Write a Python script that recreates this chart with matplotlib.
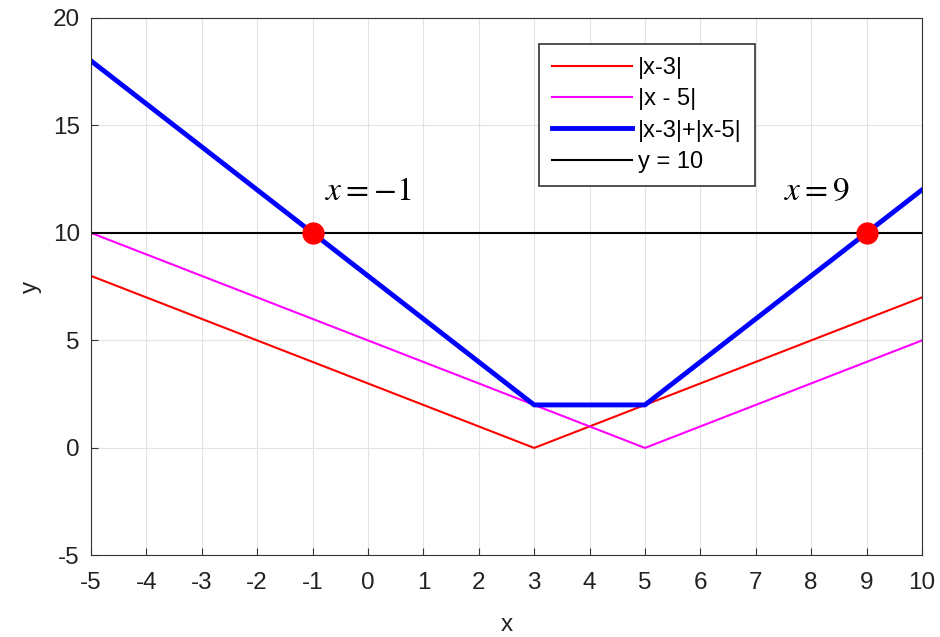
import matplotlib.pyplot as plt

plt.rcParams['font.family'] = ['Liberation Sans', 'DejaVu Sans']
plt.rcParams['mathtext.fontset'] = 'stix'
plt.rcParams['axes.unicode_minus'] = False

# breakpoints of the piecewise lines
x_pts = [-5, 3, 5, 10]
abs_x3 = [8, 0, 2, 7]
abs_x5 = [10, 2, 0, 5]
abs_sum = [18, 2, 2, 12]
line_x = [-5, 10]
line_y = [10, 10]

# solutions of |x-3|+|x-5| = 10
sol_x = [-1, 9]
sol_y = [10, 10]
sol_labels = ['$x = -1$', '$x = 9$']

fig = plt.figure(figsize=(9.4, 6.37), dpi=100)
ax = fig.add_axes([0.0968, 0.128, 0.884, 0.844])

ax.plot(x_pts, abs_x3, color='red', lw=1.5, label='|x-3|')
ax.plot(x_pts, abs_x5, color='magenta', lw=1.5, label='|x - 5|')
ax.plot(x_pts, abs_sum, color='blue', lw=3.5, label='|x-3|+|x-5|')
ax.plot(line_x, line_y, color='black', lw=1.5, label='y = 10')
ax.plot(sol_x, sol_y, 'o', color='red', markersize=15, zorder=5)

ax.text(0.0, 11.2, sol_labels[0], fontsize=24, ha='center', va='bottom')
ax.text(8.1, 11.2, sol_labels[1], fontsize=24, ha='center', va='bottom')

ax.set_xlim(-5, 10)
ax.set_ylim(-5, 20)
ax.set_xticks(range(-5, 11))
ax.set_yticks(range(-5, 21, 5))
ax.grid(True, color='#e3e3e3', lw=0.8)
ax.set_axisbelow(True)
ax.tick_params(direction='in', labelsize=17.5, length=5, color='#333333',
               labelcolor='#222222', top=False, right=False)
ax.tick_params(axis='x', pad=12)
ax.tick_params(axis='y', pad=8)
for s in ax.spines.values():
    s.set_color('#333333')
ax.set_xlabel('x', fontsize=17.5, color='#222222', labelpad=14)
ax.set_ylabel('y', fontsize=17.5, color='#222222', labelpad=8)

leg = ax.legend(loc='upper left', bbox_to_anchor=(0.539, 0.9516), borderaxespad=0,
                fontsize=17, fancybox=False, framealpha=1, edgecolor='#333333',
                handlelength=3.4, borderpad=0.55, labelspacing=0.4,
                handletextpad=0.25)
leg.get_frame().set_linewidth(1.2)

fig.savefig('out.png', dpi=100)
